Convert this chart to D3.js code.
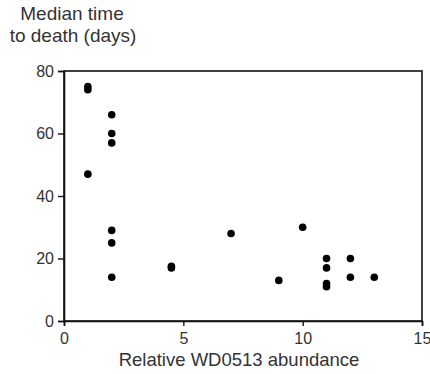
<!DOCTYPE html>
<html><head><meta charset="utf-8">
<script src="https://cdn.jsdelivr.net/npm/d3@7"></script>
<style>body{margin:0;background:#fff;}svg{display:block;font-family:Arial,"Liberation Sans",sans-serif;}</style>
</head><body>
<svg id="c" width="430" height="374"></svg>
<script>
const abundance = [1, 1, 1, 2, 2, 2, 2, 2, 2, 4.5, 4.5, 7, 9, 10, 11, 11, 11, 11, 12, 12, 13];
const medianDays = [74, 75, 47, 66, 60, 57, 29, 25, 14, 17, 17.5, 28, 13, 30, 20, 17, 12, 11, 20, 14, 14];
const xTicks = [0, 5, 10, 15];
const yTicks = [0, 20, 40, 60, 80];

const svg = d3.select("#c");
const m = {l: 64, r: 8, t: 71, b: 53};
const W = 430, H = 374;
const x = d3.scaleLinear().domain([0, 15]).range([m.l, W - m.r]);
const y = d3.scaleLinear().domain([0, 80]).range([H - m.b, m.t]);
const ink = "#111";

// frame
svg.append("rect").attr("x", x(0)).attr("y", y(80)).attr("width", x(15) - x(0)).attr("height", y(0) - y(80))
  .attr("fill", "none").attr("stroke", ink).attr("stroke-width", 1.6);

const xa = svg.append("g").attr("transform", `translate(0,${y(0)})`)
  .call(d3.axisBottom(x).tickValues(xTicks).tickSize(5).tickPadding(7));
const ya = svg.append("g").attr("transform", `translate(${x(0)},0)`)
  .call(d3.axisLeft(y).tickValues(yTicks).tickSize(6).tickPadding(4));
[xa, ya].forEach(g => {
  g.select(".domain").attr("stroke", ink).attr("stroke-width", 1.6);
  g.selectAll(".tick line").attr("stroke", ink).attr("stroke-width", 1.4);
  g.selectAll("text").attr("fill", "#333").style("font-size", "16px").style("font-family", "Arial, 'Liberation Sans', sans-serif");
});

svg.append("g").selectAll("circle").data(abundance.map((a, i) => [a, medianDays[i]]))
  .join("circle").attr("cx", d => x(d[0])).attr("cy", d => y(d[1])).attr("r", 3.8).attr("fill", "#000");

const t = svg.append("text").attr("fill", "#333").style("font-size", "19px").attr("text-anchor", "middle");
t.append("tspan").attr("x", 72).attr("y", 20).text("Median time");
t.append("tspan").attr("x", 73).attr("y", 42).text("to death (days)");

svg.append("text").attr("x", 239).attr("y", 366).attr("text-anchor", "middle").attr("fill", "#333")
  .style("font-size", "18.5px").text("Relative WD0513 abundance");
</script>
</body></html>
